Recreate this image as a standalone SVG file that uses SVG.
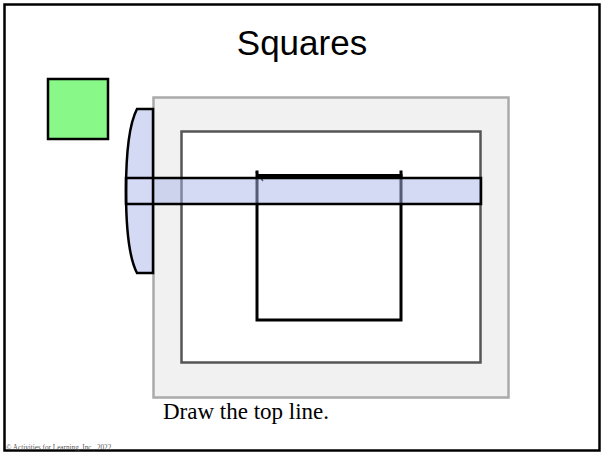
<svg xmlns="http://www.w3.org/2000/svg" width="601" height="453" viewBox="0 0 601 453">
<style>
.title{font-family:"Liberation Sans",Arial,sans-serif;font-size:35px;fill:#000}
.caption{font-family:"Liberation Serif","Times New Roman",serif;font-size:23px;fill:#000}
.copy{font-family:"Liberation Serif","Times New Roman",serif;font-size:7.2px;fill:#555}
.ink{fill:none;stroke:#000;stroke-width:3;stroke-linecap:square}
.toolfill{fill:#aab4ea;stroke:none}
.toolline{fill:none;stroke:#000;stroke-width:2.5}
</style>
<rect x="0" y="0" width="601" height="453" fill="#fff"/>
<g id="page">
<rect x="4.5" y="4.5" width="595" height="446" fill="none" stroke="#000" stroke-width="2.5"/>
</g>
<g id="title"><text class="title" x="302" y="55" text-anchor="middle">Squares</text></g>
<g id="green-square"><rect x="48" y="79" width="60" height="60" fill="#88f888" stroke="#000" stroke-width="2.5"/></g>
<g id="board">
<rect x="153.5" y="97.5" width="355" height="300" fill="#f1f1f1" stroke="#aaa" stroke-width="2.5"/>
<rect x="181.5" y="131.5" width="299" height="231" fill="#fff" stroke="#555" stroke-width="2.5"/>
</g>
<g id="drawn-square">
<path class="ink" d="M257 172 V320 H401 V172"/>
<path class="ink" d="M258 175.5 H401"/>
<path d="M256 172 L263 181" stroke="#000" stroke-width="1.5" fill="none"/>
</g>
<g id="ruler">
<g opacity="0.5">
<path class="toolfill" d="M153 109 H137 Q126 130 126 191 Q126 252 137 273 H153 Z"/>
<rect class="toolfill" x="126" y="178" width="355" height="26"/>
</g>
<path class="toolline" d="M153 109 H137 Q126 130 126 191 Q126 252 137 273 H153 Z"/>
<rect class="toolline" x="126" y="178" width="355" height="26"/>
</g>
<g id="caption"><text class="caption" x="163" y="419">Draw the top line.</text></g>
<g id="copyright"><text class="copy" x="6" y="450">© Activities for Learning, Inc., 2022</text></g>
</svg>
